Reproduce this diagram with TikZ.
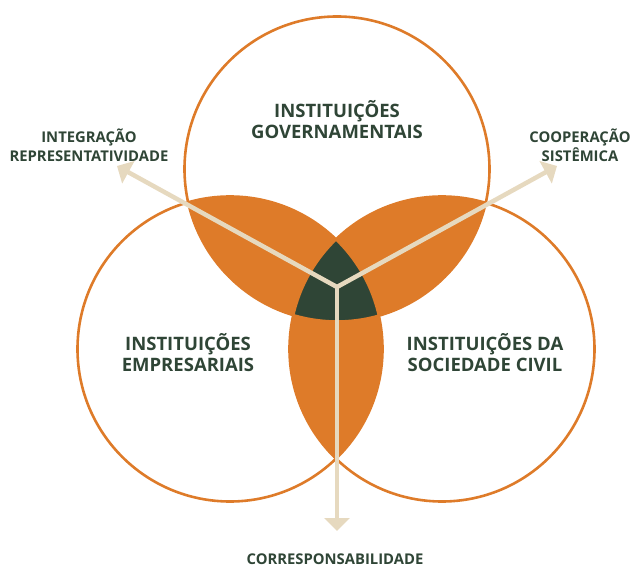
\documentclass[tikz,border=0pt]{standalone}
\usepackage{fontspec}
\setmainfont{Open Sans}
\usetikzlibrary{arrows.meta}
\definecolor{orng}{HTML}{DE7B29}
\definecolor{dgreen}{HTML}{2F4536}
\definecolor{cream}{HTML}{E6D9BF}
\tikzset{
  ring/.style={draw=orng,line width=2.6pt},
  bigtxt/.style={text=dgreen,align=center,font=\fontsize{18.5}{21}\selectfont\bfseries,inner sep=0pt},
  smalltxt/.style={text=dgreen,align=center,font=\fontsize{14.8}{19}\selectfont\bfseries,inner sep=0pt},
  ray/.style={draw=cream,line width=4.5pt,-{Triangle[width=25pt,length=13pt]}}
}
\begin{document}
\begin{tikzpicture}[x=1pt,y=-1pt]
\useasboundingbox (0,0) rectangle (633,567);
\def\R{152.5}
\coordinate (cT) at (337,169);
\coordinate (cL) at (230,349);
\coordinate (cR) at (442,349);
% pairwise lenses
\begin{scope}\clip (cT) circle (\R); \fill[orng] (cL) circle (\R);\end{scope}
\begin{scope}\clip (cT) circle (\R); \fill[orng] (cR) circle (\R);\end{scope}
\begin{scope}\clip (cL) circle (\R); \fill[orng] (cR) circle (\R);\end{scope}
% triple
\begin{scope}\clip (cT) circle (\R); \clip (cL) circle (\R); \fill[dgreen] (cR) circle (\R);\end{scope}
% rings
\draw[ring] (cT) circle (\R);
\draw[ring] (cL) circle (\R);
\draw[ring] (cR) circle (\R);
% rays
\coordinate (hub) at (337,287);
\coordinate (eL) at (117,166);
\coordinate (eR) at (557,166);
\coordinate (eD) at (337,531);
\draw[ray] (hub) -- (eL);
\draw[ray] (hub) -- (eR);
\draw[ray] (hub) -- (eD);
% main labels
\node[bigtxt] (tG) at (337,120) {INSTITUIÇÕES\\GOVERNAMENTAIS};
\node[bigtxt] (tE) at (188,353) {INSTITUIÇÕES\\EMPRESARIAIS};
\node[bigtxt] (tS) at (485,353) {INSTITUIÇÕES DA\\SOCIEDADE CIVIL};
% side labels
\node[smalltxt] (lI) at (89,145) {INTEGRAÇÃO\\REPRESENTATIVIDADE};
\node[smalltxt] (lC) at (580,145) {COOPERAÇÃO\\SISTÊMICA};
\node[smalltxt] (lR) at (335,559) {CORRESPONSABILIDADE};
\end{tikzpicture}
\end{document}
